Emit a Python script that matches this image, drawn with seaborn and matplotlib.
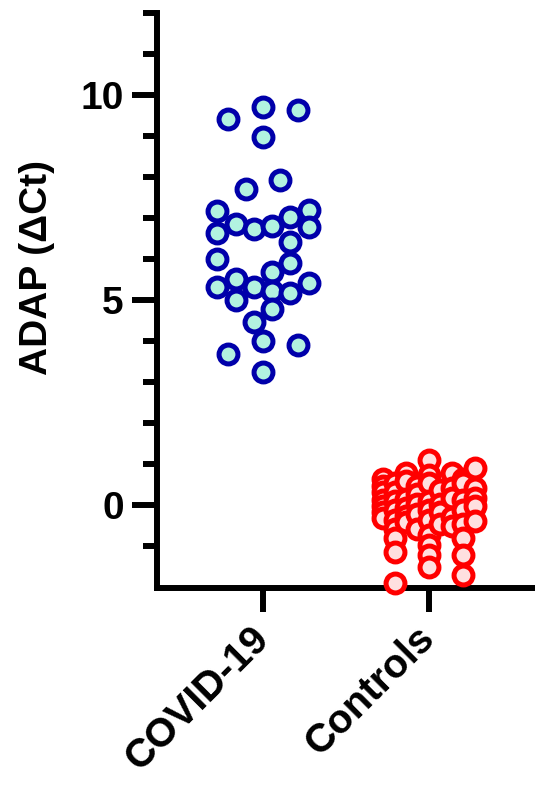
import numpy as np
import pandas as pd
import matplotlib
matplotlib.use("Agg")
import matplotlib.pyplot as plt
import seaborn as sns

# ADAP delta-Ct values, with the column-scatter lane of each point
covid_values = [9.41, 9.71, 9.63, 8.98, 7.93, 7.70, 7.17, 7.20, 7.03, 6.85, 6.72,
                6.80, 6.64, 6.79, 6.42, 5.99, 5.91, 5.69, 5.50, 5.32, 5.31, 5.41,
                5.22, 5.16, 5.00, 4.77, 4.46, 4.00, 3.90, 3.68, 3.23]
covid_lanes = [-1.9, 0, 1.9, 0, 0.9, -0.95, -2.5, 2.5, 1.45, -1.5, -0.5,
               0.5, -2.5, 2.5, 1.45, -2.5, 1.45, 0.5, -1.5, -2.5, -0.5, 2.5,
               0.5, 1.45, -1.5, 0.5, -0.5, 0, 1.9, -1.9, 0]

control_values = [0.64, 0.47, 0.30, 0.12, -0.03, -0.18, -0.33,
                  0.54, 0.32, 0.09, -0.13, -0.36, -0.58, -0.81, -1.16, -1.92,
                  0.77, 0.57, 0.14, -0.08, -0.28, -0.43,
                  0.46, 0.27, 0.02, -0.23, -0.60,
                  1.10, 0.73, 0.52, 0.09, -0.13, -0.38, -0.73, -0.98, -1.22, -1.53,
                  0.37, 0.03, -0.18, -0.48,
                  0.77, 0.42, 0.17, -0.30, -0.53,
                  0.62, 0.52, 0.12, -0.13, -0.48, -0.81, -1.22, -1.71,
                  0.89, 0.40, 0.17, -0.03, -0.40]
control_lanes = ([-4] * 7 + [-3] * 9 + [-2] * 6 + [-1] * 5 + [0] * 10
                 + [1] * 4 + [2] * 5 + [3] * 8 + [4] * 5)

groups = ["COVID-19", "Controls"]
lane_width = {"COVID-19": 0.111, "Controls": 0.069}

df = pd.concat([
    pd.DataFrame({"group": "COVID-19", "value": covid_values, "lane": covid_lanes}),
    pd.DataFrame({"group": "Controls", "value": control_values, "lane": control_lanes}),
], ignore_index=True)
df["pos"] = df["group"].map(groups.index) + df["lane"] * df["group"].map(lane_width)

sns.set_style("ticks")
plt.rcParams["font.family"] = ["Liberation Sans", "DejaVu Sans"]
plt.rcParams["font.weight"] = "bold"
plt.rcParams["text.color"] = "black"
plt.rcParams["axes.labelcolor"] = "black"
plt.rcParams["xtick.color"] = "black"
plt.rcParams["ytick.color"] = "black"

fig = plt.figure(figsize=(5.35, 7.85), dpi=100)
ax = fig.add_axes([0.2935, 0.2510, 0.7065, 0.7324])

styles = {"COVID-19": ("#B2F2E0", "#0000AA"), "Controls": ("#FFE0E0", "#FF0000")}
for g in groups:
    face, edge = styles[g]
    sns.scatterplot(data=df[df["group"] == g], x="pos", y="value", ax=ax,
                    s=185, color=face, edgecolor=edge, linewidth=3.6,
                    zorder=3, clip_on=False, legend=False)

ax.set_xlim(-0.64, 1.64)
ax.set_ylim(-2.03, 12)
ax.set_xticks(range(len(groups)))
ax.set_xticklabels(groups, rotation=45, ha="right", va="center",
                   rotation_mode="anchor", fontsize=29, fontweight="bold")
ax.set_yticks([0, 5, 10])
ax.set_yticks(np.arange(-1, 13, 1), minor=True)
ax.tick_params(axis="y", which="major", length=18, width=4.3, labelsize=28, pad=6)
ax.tick_params(axis="y", which="minor", length=10, width=4.3)
ax.tick_params(axis="x", which="major", length=17, width=4.3, pad=15)
for lab in ax.get_yticklabels():
    lab.set_fontweight("bold")

ax.set_xlabel("")
ax.set_ylabel("ADAP (\u0394Ct)", fontsize=28, fontweight="bold")
ax.yaxis.set_label_coords(-0.27, 0.557)

sns.despine(ax=ax)
for side in ["left", "bottom"]:
    ax.spines[side].set_linewidth(4.3)
    ax.spines[side].set_color("black")

fig.savefig("out.png", dpi=100)
